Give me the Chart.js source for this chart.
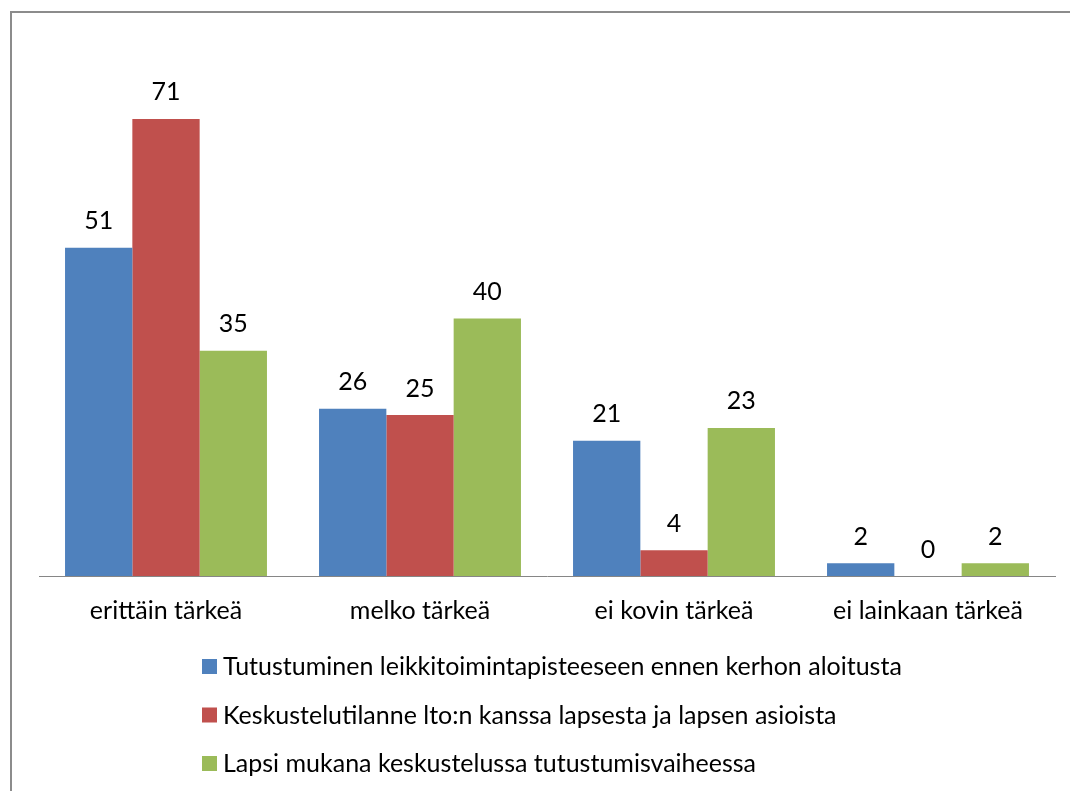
<!DOCTYPE html>
<html lang="fi">
<head>
<meta charset="utf-8">
<title>Kerhon aloitus</title>
<script src="https://cdn.jsdelivr.net/npm/chart.js@4.4.1/dist/chart.umd.min.js"></script>
<style>
  html, body { margin: 0; padding: 0; background: #fff; }
  .wrap { position: relative; width: 1070px; height: 791px; overflow: hidden; }
  .frame {
    position: absolute; left: 10px; top: 11px; width: 1200px; height: 900px;
    border-left: 2px solid #8c8c8c; border-top: 2px solid #8c8c8c;
  }
  canvas { position: absolute; left: 0; top: 0; }
</style>
</head>
<body>
<div class="wrap">
  <div class="frame"></div>
  <canvas id="chart" width="1070" height="791"></canvas>
</div>
<script>
// arvot luettu kuvasta
const categories = ['erittäin tärkeä', 'melko tärkeä', 'ei kovin tärkeä', 'ei lainkaan tärkeä'];
const seriesNames = [
  'Tutustuminen leikkitoimintapisteeseen ennen kerhon aloitusta',
  'Keskustelutilanne lto:n kanssa lapsesta ja lapsen asioista',
  'Lapsi mukana keskustelussa tutustumisvaiheessa',
];
const tutustuminen = [51, 26, 21, 2];
const keskustelu = [71, 25, 4, 0];
const lapsiMukana = [35, 40, 23, 2];
const colors = ['#4F81BD', '#C0504D', '#9BBB59'];

const FAMILY = 'Lato, Carlito, Calibri, sans-serif';
const FONT = '25px ' + FAMILY;

// numerot palkkien päälle
const valueLabels = {
  id: 'valueLabels',
  afterDatasetsDraw(chart) {
    const { ctx } = chart;
    ctx.save();
    ctx.font = FONT;
    ctx.fillStyle = '#000';
    ctx.textAlign = 'center';
    ctx.textBaseline = 'alphabetic';
    chart.data.datasets.forEach((ds, i) => {
      chart.getDatasetMeta(i).data.forEach((bar, j) => {
        ctx.fillText(String(ds.data[j]), bar.x, bar.y - 18.5);
      });
    });
    ctx.restore();
  },
};

// selite allekkain, vasemmalle tasattuna
const listLegend = {
  id: 'listLegend',
  afterDraw(chart) {
    const { ctx } = chart;
    const x = 202;
    const top = chart.chartArea.bottom + 83;
    const step = 48.5;
    const box = 15;
    ctx.save();
    ctx.font = FONT;
    ctx.textAlign = 'left';
    ctx.textBaseline = 'alphabetic';
    chart.data.datasets.forEach((ds, i) => {
      const y = top + i * step;
      ctx.fillStyle = ds.backgroundColor;
      ctx.fillRect(x, y, box, box);
      ctx.fillStyle = '#000';
      ctx.fillText(ds.label, x + box + 6, y + 16);
    });
    ctx.restore();
  },
};

const values = [tutustuminen, keskustelu, lapsiMukana];

new Chart(document.getElementById('chart'), {
  type: 'bar',
  data: {
    labels: categories,
    datasets: seriesNames.map((name, i) => ({
      label: name,
      data: values[i],
      backgroundColor: colors[i],
      borderWidth: 0,
      categoryPercentage: 0.795,
      barPercentage: 1,
    })),
  },
  options: {
    responsive: false,
    animation: false,
    layout: { padding: { left: 39, right: 15, top: 61, bottom: 145 } },
    plugins: {
      legend: { display: false },
      tooltip: { enabled: false },
    },
    scales: {
      x: {
        grid: { display: false, drawTicks: false },
        border: { display: true, color: '#868686', width: 1 },
        ticks: {
          color: '#000',
          padding: 20,
          font: { family: FAMILY, size: 25 },
        },
      },
      y: {
        display: false,
        min: 0,
        max: 80,
      },
    },
  },
  plugins: [valueLabels, listLegend],
});
</script>
</body>
</html>
